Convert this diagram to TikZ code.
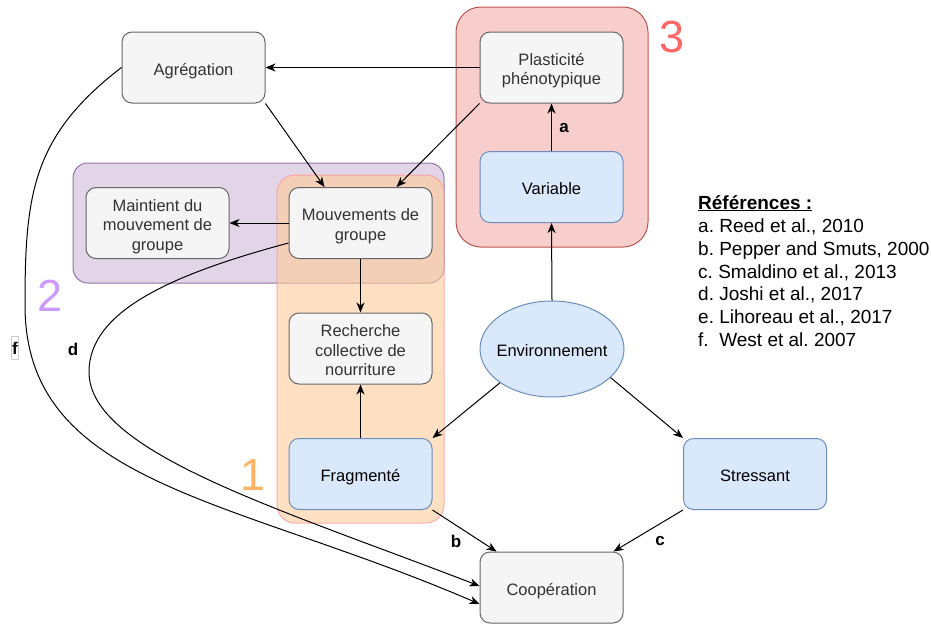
\documentclass[tikz,border=0pt]{standalone}
\usepackage{fontspec}
\setmainfont{Liberation Sans}
\usetikzlibrary{arrows.meta,shapes.geometric}
\definecolor{grayfill}{HTML}{F5F5F5}
\definecolor{graystroke}{HTML}{666666}
\definecolor{bluefill}{HTML}{DAE8FC}
\definecolor{bluestroke}{HTML}{6C8EBF}
\definecolor{redfill}{HTML}{F8CECC}
\definecolor{redstroke}{HTML}{B85450}
\definecolor{purplefill}{HTML}{E1D5E7}
\definecolor{purplestroke}{HTML}{9673A6}
\definecolor{orangefill}{HTML}{FFCC99}
\definecolor{orangestroke}{HTML}{FF9999}
\definecolor{txt}{HTML}{333333}
\definecolor{numone}{HTML}{FFB366}
\definecolor{numtwo}{HTML}{CC99FF}
\definecolor{numthree}{HTML}{FF6666}
\newcommand{\mytopstrut}{\rule{0pt}{19pt}}
\newcommand{\mybotstrut}{\rule[-4pt]{0pt}{4pt}}
\frenchspacing
\begin{document}
\begin{tikzpicture}[x=1pt,y=-1pt,
  box/.style={draw, line width=1pt, rounded corners=10pt, minimum width=143pt, minimum height=71pt, align=center, inner sep=2pt,
    font=\fontsize{16.5}{19.5}\selectfont, execute at end node=\mybotstrut},
  graybox/.style={box, fill=grayfill, draw=graystroke, text=txt},
  bluebox/.style={box, fill=bluefill, draw=bluestroke, text=black},
  grp/.style={draw, line width=1pt, inner sep=0pt},
  conn/.style={line width=1pt, -{Stealth[length=10pt,width=8pt,inset=3pt]}},
  lab/.style={font=\fontsize{17}{20}\selectfont\bfseries, inner sep=0pt},
  num/.style={font=\fontsize{45}{50}\selectfont, inner sep=0pt},
  refline/.style={anchor=base west, inner sep=0pt, font=\fontsize{19}{23}\selectfont}
]
\useasboundingbox (0,0) rectangle (931,624);

% groups
\node[grp, fill=purplefill, draw=purplestroke, rounded corners=15pt, minimum width=371pt, minimum height=120pt] (g2) at (258.5,223) {};
\node[grp, fill=orangefill, draw=orangestroke, fill opacity=0.6, draw opacity=0.8, rounded corners=18pt, minimum width=167pt, minimum height=348pt] (g1) at (360.5,349) {};
\node[grp, fill=redfill, draw=redstroke, rounded corners=25pt, minimum width=192pt, minimum height=240pt] (g3) at (552,127) {};

% group numbers
\node[num, text=numthree] (n3) at (672,37) {3};
\node[num, text=numtwo] (n2) at (50,295.5) {2};
\node[num, text=numone] (n1) at (253,475) {1};

% boxes
\node[graybox] (agr) at (193.5,67.5) {\mytopstrut Agrégation};
\node[graybox] (plast) at (551.5,67.5) {\mytopstrut Plasticité\\phénotypique};
\node[bluebox] (var) at (551.5,187) {\mytopstrut Variable};
\node[graybox] (maint) at (157.5,223) {\mytopstrut Maintient du\\mouvement de\\groupe};
\node[graybox] (mouv) at (360.5,223) {\mytopstrut Mouvements de\\groupe};
\node[graybox] (rech) at (360.5,348.5) {\mytopstrut Recherche\\collective de\\nourriture};
\node[bluebox] (fragm) at (360.5,474) {\mytopstrut Fragmenté};
\node[draw=bluestroke, fill=bluefill, line width=1pt, ellipse, inner sep=0pt, minimum width=144pt, minimum height=96pt,
      label={[font=\fontsize{16.5}{19.5}\selectfont, text=black]center:\mytopstrut Environnement\mybotstrut}] (env) at (552,349) {};
\node[bluebox] (stress) at (755,474) {\mytopstrut Stressant};
\node[graybox] (coop) at (551.5,587.5) {\mytopstrut Coopération};

% connectors
\draw[conn] (plast.west) -- (agr.east);
\draw[conn] (agr.south east) -- ([xshift=-36pt]mouv.north);
\draw[conn] (plast.south west) -- ([xshift=36pt]mouv.north);
\draw[conn] (mouv.west) -- (maint.east);
\draw[conn] (mouv.south) -- (rech.north);
\draw[conn] (fragm.north) -- (rech.south);
\draw[conn] (env.north) -- (var.south);
\draw[conn] (var.north) -- (plast.south);
\draw[conn] (env.213) -- (fragm.north east);
\draw[conn] (env.-26) -- (stress.north west);
\draw[conn] (fragm.south east) -- ([xshift=-55pt]coop.north);
\draw[conn] (stress.south west) -- ([xshift=62pt]coop.north);
\draw[conn] ([yshift=-20pt]mouv.west) .. controls (169,275) and (89,312) .. (89,372)
  .. controls (89,452) and (280,509) .. ([yshift=1.5pt]coop.west);
\draw[conn] (agr.west) .. controls (32,136) and (25,195) .. (25,305)
  .. controls (25,485) and (230,496.5) .. ([yshift=-16.5pt]coop.west);

% connector labels
\node[lab] (la) at (564,128) {a};
\node[lab] (lb) at (456,541) {b};
\node[lab] (lc) at (660,541) {c};
\node[lab] (ld) at (73,349) {d};
\node[lab, draw=black!20, fill=white, line width=0.6pt, inner xsep=0.5pt, minimum height=23pt] (lf) at (15,348) {f};

% references
\node[refline] (r0) at (698,209) {\underline{\textbf{Références :}}};
\node[refline] (r1) at (698,232) {a. Reed et al., 2010};
\node[refline] (r2) at (698,255) {b. Pepper and Smuts, 2000};
\node[refline] (r3) at (698,278) {c. Smaldino et al., 2013};
\node[refline] (r4) at (698,300.7) {d. Joshi et al., 2017};
\node[refline] (r5) at (698,323.3) {e. Lihoreau et al., 2017};
\node[refline] (r6) at (698,346) {f.\ \ West et al. 2007};
\end{tikzpicture}
\end{document}
